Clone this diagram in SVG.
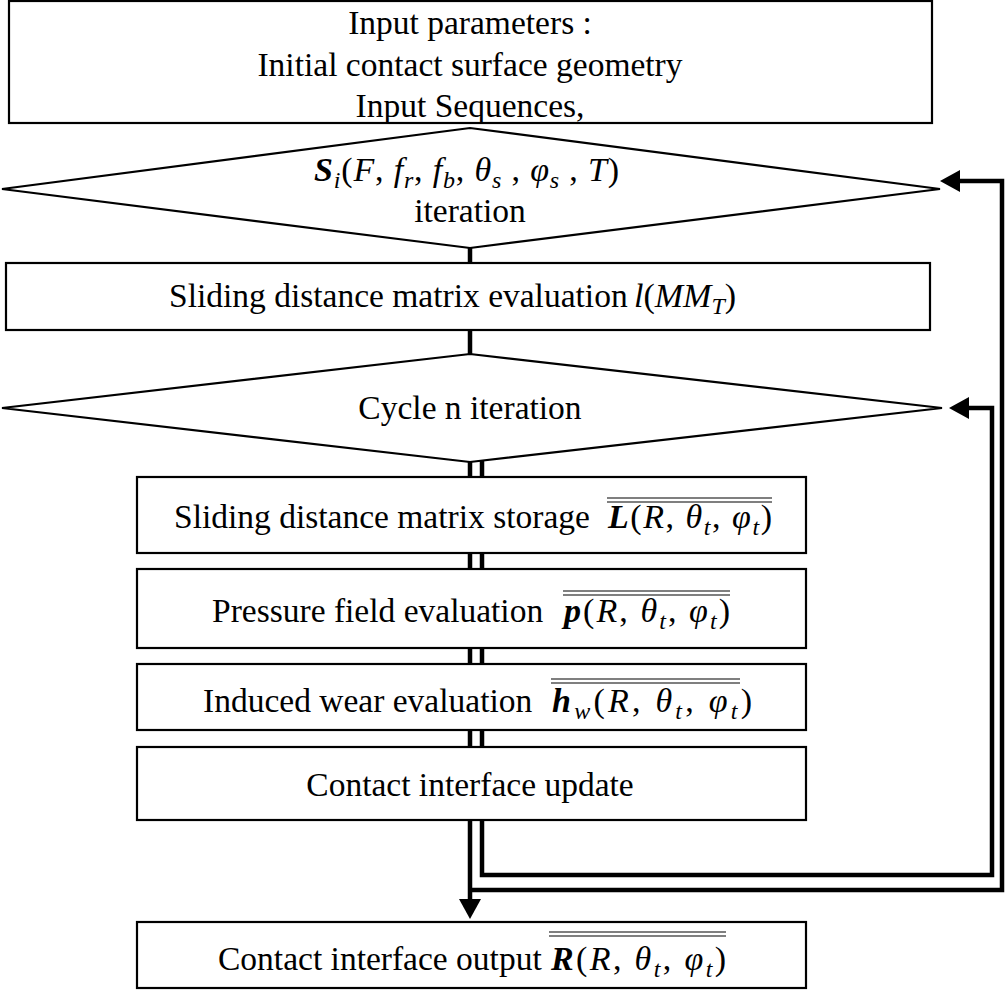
<svg xmlns="http://www.w3.org/2000/svg" width="1006" height="991" viewBox="0 0 1006 991">
<defs>
<marker id="arr" markerUnits="userSpaceOnUse" markerWidth="20" markerHeight="22" refX="0" refY="11" orient="auto" viewBox="0 0 20 22">
<path d="M0,0 L20,11 L0,22 Z" fill="#000"/>
</marker>
<style>
.box{fill:#fff;stroke:#000;stroke-width:2.2}
.t{font-family:"Liberation Serif","Times New Roman",serif;font-size:33.5px;fill:#000}
.m{font-family:"Liberation Serif","Times New Roman",serif;font-size:34px;fill:#000}
.i{font-style:italic}
.bi{font-style:italic;font-weight:bold}
.sub{font-size:24px}
.c{fill:none;stroke:#000;stroke-width:4.5;stroke-linejoin:miter}
.ol{stroke:#555;stroke-width:1.5}
</style>
</defs>
<rect width="1006" height="991" fill="#fff"/>
<g id="connectors">
<line class="c" x1="470" y1="246" x2="470" y2="265"/>
<line class="c" x1="470" y1="328" x2="470" y2="356"/>
<path class="c" d="M470,460 V899" marker-end="url(#arr)"/>
<path class="c" d="M482,460 V875 H992 V408 H969" marker-end="url(#arr)"/>
<path class="c" d="M470,890 H1002 V181 H960" marker-end="url(#arr)"/>
</g>
<g id="input">
<rect class="box" x="9" y="1" width="923" height="122"/>
<text class="t" x="470" y="34" text-anchor="middle">Input parameters :</text>
<text class="t" x="470" y="76" text-anchor="middle">Initial contact surface geometry</text>
<text class="t" x="470" y="117" text-anchor="middle">Input Sequences,</text>
</g>
<g id="seq-iteration">
<polygon class="box" points="2,189 470,128 940,189 470,248"/>
<text class="m" x="314" y="181" textLength="305" lengthAdjust="spacing"><tspan class="bi">S</tspan><tspan class="i sub" dy="7">i</tspan><tspan dy="-7">(</tspan><tspan class="i">F</tspan>, <tspan class="i">f</tspan><tspan class="i sub" dy="7">r</tspan><tspan dy="-7">, </tspan><tspan class="i">f</tspan><tspan class="i sub" dy="7">b</tspan><tspan dy="-7">, </tspan><tspan class="i">θ</tspan><tspan class="i sub" dy="7">s</tspan><tspan dy="-7"> , </tspan><tspan class="i">φ</tspan><tspan class="i sub" dy="7">s</tspan><tspan dy="-7"> , </tspan><tspan class="i">T</tspan>)</text>
<text class="t" x="470" y="222" text-anchor="middle">iteration</text>
</g>
<g id="sliding-eval">
<rect class="box" x="6" y="263" width="924" height="67"/>
<text class="t" x="169" y="307">Sliding distance matrix evaluation</text>
<text class="m" x="634" y="307"><tspan class="i">l</tspan>(<tspan class="i">MM</tspan><tspan class="i sub" dy="7">T</tspan><tspan dy="-7">)</tspan></text>
</g>
<g id="cycle-iteration">
<polygon class="box" points="2,408 470,354 942,408 470,462"/>
<text class="t" x="470" y="419" text-anchor="middle">Cycle n iteration</text>
</g>
<g id="storage">
<rect class="box" x="137" y="477" width="669" height="76"/>
<text class="t" x="174" y="528">Sliding distance matrix storage</text>
<text class="m" x="608" y="528" textLength="164" lengthAdjust="spacing"><tspan class="bi">L</tspan>(<tspan class="i">R</tspan>, <tspan class="i">θ</tspan><tspan class="i sub" dy="7">t</tspan><tspan dy="-7">, </tspan><tspan class="i">φ</tspan><tspan class="i sub" dy="7">t</tspan><tspan dy="-7">)</tspan></text>
<line class="ol" x1="607" y1="498" x2="772" y2="498"/>
<line class="ol" x1="607" y1="502" x2="772" y2="502"/>
</g>
<g id="pressure">
<rect class="box" x="137" y="569" width="669" height="79"/>
<text class="t" x="212" y="622">Pressure field evaluation</text>
<text class="m" x="564" y="622" textLength="166" lengthAdjust="spacing"><tspan class="bi">p</tspan>(<tspan class="i">R</tspan>, <tspan class="i">θ</tspan><tspan class="i sub" dy="7">t</tspan><tspan dy="-7">, </tspan><tspan class="i">φ</tspan><tspan class="i sub" dy="7">t</tspan><tspan dy="-7">)</tspan></text>
<line class="ol" x1="563" y1="591" x2="730" y2="591"/>
<line class="ol" x1="563" y1="595" x2="730" y2="595"/>
</g>
<g id="wear">
<rect class="box" x="137" y="664" width="669" height="66"/>
<text class="t" x="203" y="712">Induced wear evaluation</text>
<text class="m" x="552" y="712" textLength="200" lengthAdjust="spacing"><tspan class="bi">h</tspan><tspan class="i sub" dy="7">w</tspan><tspan dy="-7">(</tspan><tspan class="i">R</tspan>, <tspan class="i">θ</tspan><tspan class="i sub" dy="7">t</tspan><tspan dy="-7">, </tspan><tspan class="i">φ</tspan><tspan class="i sub" dy="7">t</tspan><tspan dy="-7">)</tspan></text>
<line class="ol" x1="551" y1="679" x2="740" y2="679"/>
<line class="ol" x1="551" y1="683" x2="740" y2="683"/>
</g>
<g id="update">
<rect class="box" x="137" y="747" width="669" height="73"/>
<text class="t" x="470" y="796" text-anchor="middle">Contact interface update</text>
</g>
<g id="output">
<rect class="box" x="137" y="922" width="669" height="66"/>
<text class="t" x="218" y="970">Contact interface output</text>
<text class="m" x="551" y="970" textLength="175" lengthAdjust="spacing"><tspan class="bi">R</tspan>(<tspan class="i">R</tspan>, <tspan class="i">θ</tspan><tspan class="i sub" dy="7">t</tspan><tspan dy="-7">, </tspan><tspan class="i">φ</tspan><tspan class="i sub" dy="7">t</tspan><tspan dy="-7">)</tspan></text>
<line class="ol" x1="549" y1="932" x2="726" y2="932"/>
<line class="ol" x1="549" y1="936" x2="726" y2="936"/>
</g>
</svg>
